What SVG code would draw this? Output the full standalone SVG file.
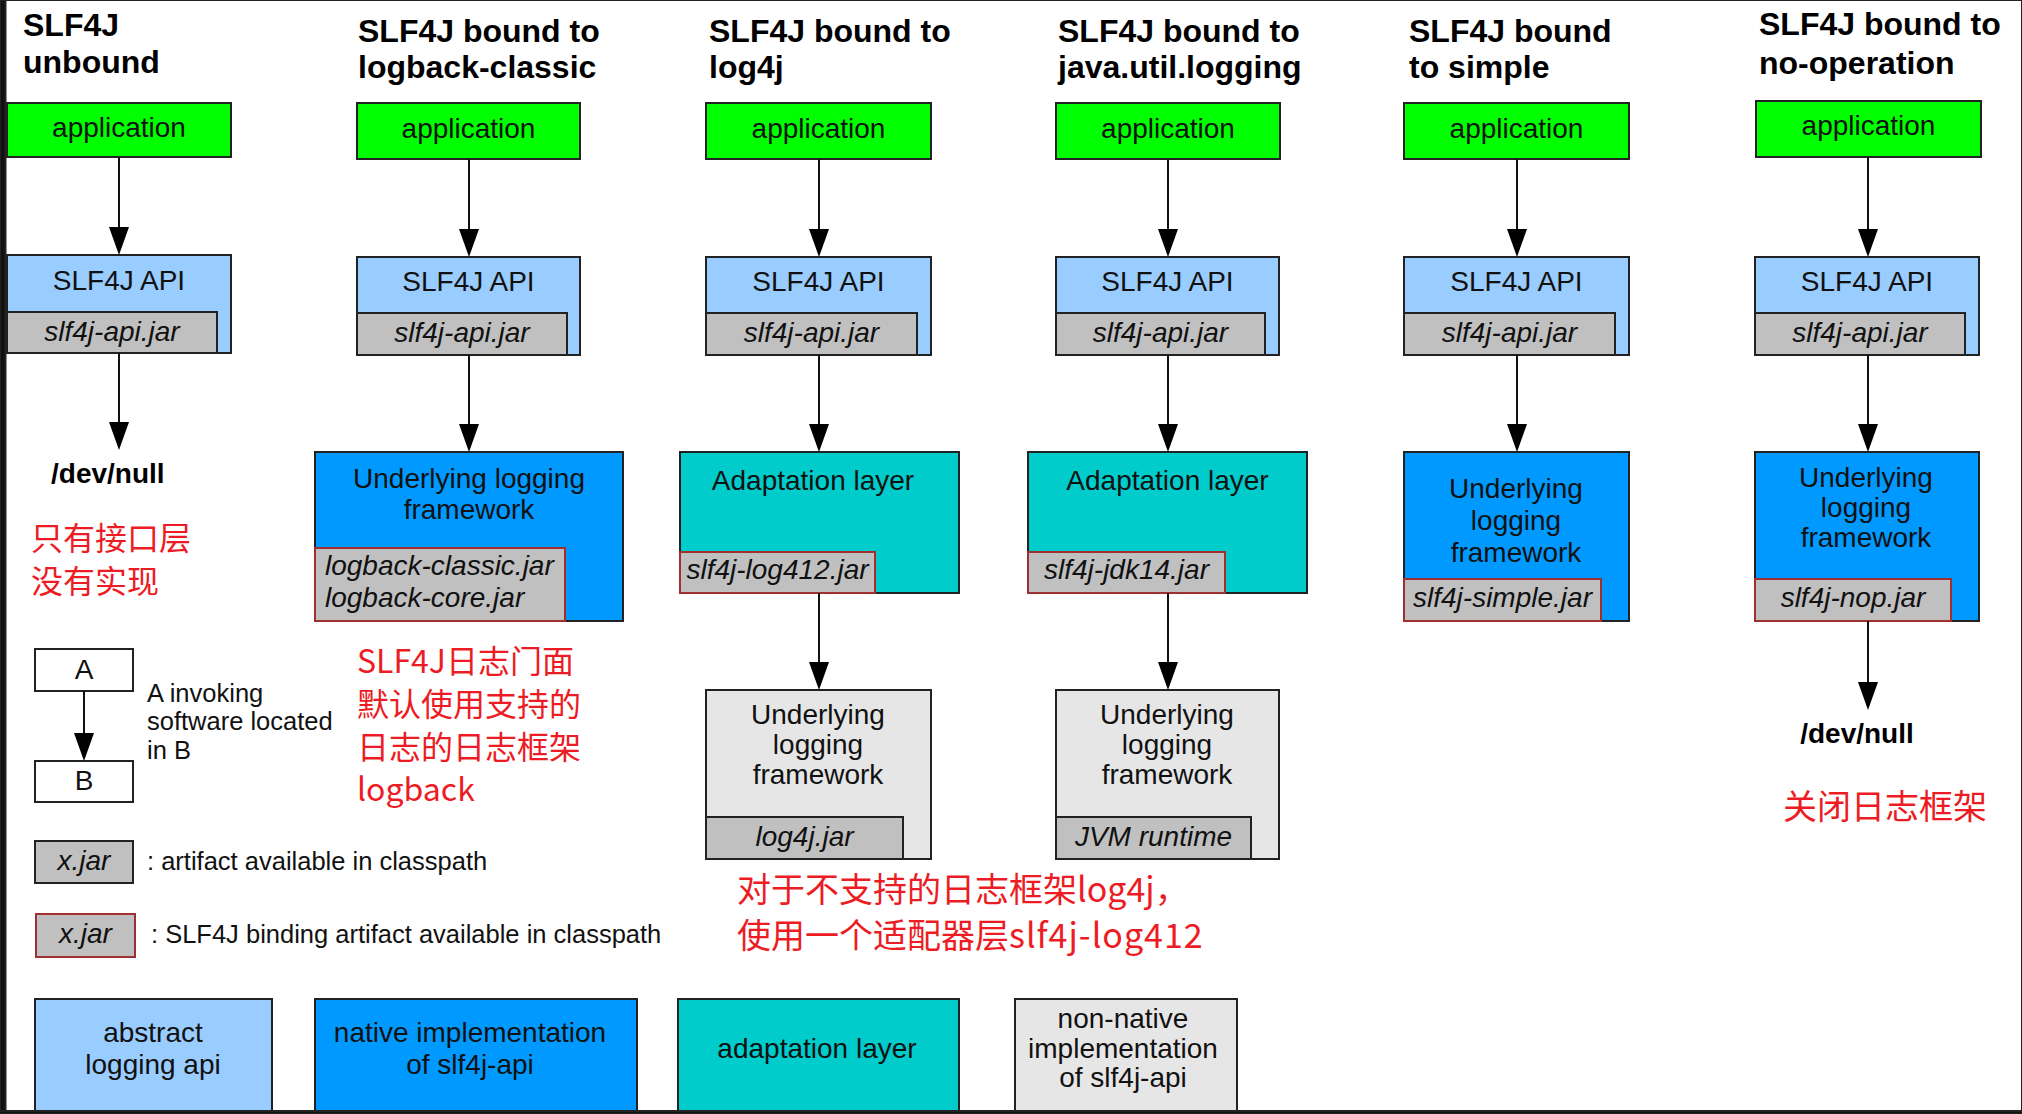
<svg xmlns="http://www.w3.org/2000/svg" width="2022" height="1114" viewBox="0 0 2022 1114">
<defs>
<marker id="ah" viewBox="0 0 28 20" markerWidth="28" markerHeight="20" refX="24" refY="10" orient="auto" markerUnits="userSpaceOnUse"><path d="M0,0 L28,10 L0,20 z" fill="#000"/></marker>
</defs>
<style>
.t{font-family:"Liberation Sans",Arial,sans-serif;font-size:32px;font-weight:bold;fill:#000}
.n{font-family:"Liberation Sans",Arial,sans-serif;font-size:28px;font-weight:bold;fill:#000}
.l{font-family:"Liberation Sans",Arial,sans-serif;font-size:28px;fill:#111;text-anchor:middle}
.j{font-family:"Liberation Sans",Arial,sans-serif;font-size:28px;font-style:italic;fill:#111;text-anchor:middle}
.js{text-anchor:start}
.d{font-family:"Liberation Sans",Arial,sans-serif;font-size:25.5px;fill:#111}
.r{font-family:"Noto Sans CJK SC",sans-serif;font-size:32px;fill:#ed1c24}
.r34{font-size:34px}
rect{stroke:#222;stroke-width:2}
.app{fill:#00ff00}
.api{fill:#99ccff}
.nat{fill:#0099ff}
.ada{fill:#00cccc}
.non{fill:#e6e6e6}
.wht{fill:#fff}
.jar{fill:#c0c0c0}
.bind{fill:#c0c0c0;stroke:#a03030}
#connectors line{stroke:#111;stroke-width:2;marker-end:url(#ah)}
</style>
<rect x="0" y="0" width="2022" height="1114" fill="#fff" stroke="none"/>

<!-- Column 1: unbound -->
<g id="col1-title"><text class="t" x="23" y="36">SLF4J</text><text class="t" x="23" y="73">unbound</text></g>
<g id="col1-app"><rect class="app" x="7" y="103" width="224" height="54"/><text class="l" x="119" y="137">application</text></g>
<g id="col1-api"><rect class="api" x="7" y="255" width="224" height="98"/><text class="l" x="119" y="290">SLF4J API</text><rect class="jar" x="7" y="312" width="210" height="41"/><text class="j" x="112" y="341">slf4j-api.jar</text></g>
<g id="col1-null"><text class="n" x="51" y="483">/dev/null</text></g>
<g id="col1-note"><text class="r" x="31" y="550">只有接口层</text><text class="r" x="31" y="593">没有实现</text></g>

<!-- Column 2: logback-classic -->
<g id="col2-title"><text class="t" x="358" y="42">SLF4J bound to</text><text class="t" x="358" y="78">logback-classic</text></g>
<g id="col2-app"><rect class="app" x="357" y="103" width="223" height="56"/><text class="l" x="468.5" y="138">application</text></g>
<g id="col2-api"><rect class="api" x="357" y="257" width="223" height="98"/><text class="l" x="468.5" y="291">SLF4J API</text><rect class="jar" x="357" y="313" width="210" height="42"/><text class="j" x="462" y="342">slf4j-api.jar</text></g>
<g id="col2-impl"><rect class="nat" x="315" y="452" width="308" height="169"/><text class="l" x="469" y="488">Underlying logging</text><text class="l" x="469" y="519">framework</text><rect class="bind" x="315" y="548" width="250" height="73"/><text class="j js" x="325" y="575">logback-classic.jar</text><text class="j js" x="325" y="607">logback-core.jar</text></g>
<g id="col2-note"><text class="r" x="357" y="673">SLF4J日志门面</text><text class="r" x="357" y="716">默认使用支持的</text><text class="r" x="357" y="759">日志的日志框架</text><text class="r" x="357" y="801">logback</text></g>

<!-- Column 3: log4j -->
<g id="col3-title"><text class="t" x="709" y="42">SLF4J bound to</text><text class="t" x="709" y="78">log4j</text></g>
<g id="col3-app"><rect class="app" x="706" y="103" width="225" height="56"/><text class="l" x="818.5" y="138">application</text></g>
<g id="col3-api"><rect class="api" x="706" y="257" width="225" height="98"/><text class="l" x="818.5" y="291">SLF4J API</text><rect class="jar" x="706" y="313" width="211" height="42"/><text class="j" x="811.5" y="342">slf4j-api.jar</text></g>
<g id="col3-adapt"><rect class="ada" x="680" y="452" width="279" height="141"/><text class="l" x="813" y="490">Adaptation layer</text><rect class="bind" x="680" y="552" width="195" height="41"/><text class="j" x="777.5" y="579">slf4j-log412.jar</text></g>
<g id="col3-impl"><rect class="non" x="706" y="690" width="225" height="169"/><text class="l" x="818" y="724">Underlying</text><text class="l" x="818" y="754">logging</text><text class="l" x="818" y="784">framework</text><rect class="jar" x="706" y="817" width="197" height="42"/><text class="j" x="804.5" y="846">log4j.jar</text></g>
<g id="col3-note"><text class="r r34" x="737" y="902">对于不支持的日志框架log4j，</text><text class="r r34" x="737" y="948">使用一个适配器层<tspan letter-spacing="1">slf4j-log412</tspan></text></g>

<!-- Column 4: java.util.logging -->
<g id="col4-title"><text class="t" x="1058" y="42">SLF4J bound to</text><text class="t" x="1058" y="78">java.util.logging</text></g>
<g id="col4-app"><rect class="app" x="1056" y="103" width="224" height="56"/><text class="l" x="1168" y="138">application</text></g>
<g id="col4-api"><rect class="api" x="1056" y="257" width="223" height="98"/><text class="l" x="1167.5" y="291">SLF4J API</text><rect class="jar" x="1056" y="313" width="209" height="42"/><text class="j" x="1160.5" y="342">slf4j-api.jar</text></g>
<g id="col4-adapt"><rect class="ada" x="1028" y="452" width="279" height="141"/><text class="l" x="1167.5" y="490">Adaptation layer</text><rect class="bind" x="1028" y="552" width="197" height="41"/><text class="j" x="1126.5" y="579">slf4j-jdk14.jar</text></g>
<g id="col4-impl"><rect class="non" x="1056" y="690" width="223" height="169"/><text class="l" x="1167" y="724">Underlying</text><text class="l" x="1167" y="754">logging</text><text class="l" x="1167" y="784">framework</text><rect class="jar" x="1056" y="817" width="195" height="42"/><text class="j" x="1153.5" y="846">JVM runtime</text></g>

<!-- Column 5: simple -->
<g id="col5-title"><text class="t" x="1409" y="42">SLF4J bound</text><text class="t" x="1409" y="78">to simple</text></g>
<g id="col5-app"><rect class="app" x="1404" y="103" width="225" height="56"/><text class="l" x="1516.5" y="138">application</text></g>
<g id="col5-api"><rect class="api" x="1404" y="257" width="225" height="98"/><text class="l" x="1516.5" y="291">SLF4J API</text><rect class="jar" x="1404" y="313" width="211" height="42"/><text class="j" x="1509.5" y="342">slf4j-api.jar</text></g>
<g id="col5-impl"><rect class="nat" x="1404" y="452" width="225" height="169"/><text class="l" x="1516" y="498">Underlying</text><text class="l" x="1516" y="530">logging</text><text class="l" x="1516" y="562">framework</text><rect class="bind" x="1404" y="579" width="197" height="42"/><text class="j" x="1502.5" y="607">slf4j-simple.jar</text></g>

<!-- Column 6: no-operation -->
<g id="col6-title"><text class="t" x="1759" y="35">SLF4J bound to</text><text class="t" x="1759" y="74">no-operation</text></g>
<g id="col6-app"><rect class="app" x="1756" y="101" width="225" height="56"/><text class="l" x="1868.5" y="135">application</text></g>
<g id="col6-api"><rect class="api" x="1755" y="257" width="224" height="98"/><text class="l" x="1867" y="291">SLF4J API</text><rect class="jar" x="1755" y="313" width="210" height="42"/><text class="j" x="1860" y="342">slf4j-api.jar</text></g>
<g id="col6-impl"><rect class="nat" x="1755" y="452" width="224" height="169"/><text class="l" x="1866" y="487">Underlying</text><text class="l" x="1866" y="517">logging</text><text class="l" x="1866" y="547">framework</text><rect class="bind" x="1755" y="579" width="196" height="42"/><text class="j" x="1853" y="607">slf4j-nop.jar</text></g>
<g id="col6-null"><text class="n" x="1857" y="743" text-anchor="middle">/dev/null</text></g>
<g id="col6-note"><text class="r r34" x="1783" y="819">关闭日志框架</text></g>

<!-- Legend -->
<g id="legend-a"><rect class="wht" x="35" y="649" width="98" height="42"/><text class="l" x="84" y="679">A</text></g>
<g id="legend-b"><rect class="wht" x="35" y="761" width="98" height="41"/><text class="l" x="84" y="790">B</text></g>
<g id="legend-ab-text"><text class="d" x="147" y="702">A invoking</text><text class="d" x="147" y="730">software located</text><text class="d" x="147" y="759">in B</text></g>
<g id="legend-jar"><rect class="jar" x="35" y="841" width="98" height="42"/><text class="j" x="84" y="870">x.jar</text><text class="d" x="147" y="870">: artifact available in classpath</text></g>
<g id="legend-bind"><rect class="bind" x="36" y="914" width="99" height="43"/><text class="j" x="85.5" y="943">x.jar</text><text class="d" x="151" y="943">: SLF4J binding artifact available in classpath</text></g>
<g id="legend-api"><rect class="api" x="35" y="999" width="237" height="120"/><text class="l" x="153" y="1042">abstract</text><text class="l" x="153" y="1074">logging api</text></g>
<g id="legend-native"><rect class="nat" x="315" y="999" width="322" height="120"/><text class="l" x="470" y="1042">native implementation</text><text class="l" x="470" y="1074">of slf4j-api</text></g>
<g id="legend-adapt"><rect class="ada" x="678" y="999" width="281" height="120"/><text class="l" x="817" y="1058">adaptation layer</text></g>
<g id="legend-nonnative"><rect class="non" x="1015" y="999" width="222" height="120"/><text class="l" x="1123" y="1028">non-native</text><text class="l" x="1123" y="1058">implementation</text><text class="l" x="1123" y="1087">of slf4j-api</text></g>

<g id="connectors">
<line x1="119" y1="157" x2="119" y2="251"/>
<line x1="119" y1="353" x2="119" y2="446"/>
<line x1="469" y1="159" x2="469" y2="253"/>
<line x1="469" y1="355" x2="469" y2="448"/>
<line x1="819" y1="159" x2="819" y2="253"/>
<line x1="819" y1="355" x2="819" y2="448"/>
<line x1="819" y1="593" x2="819" y2="686"/>
<line x1="1168" y1="159" x2="1168" y2="253"/>
<line x1="1168" y1="355" x2="1168" y2="448"/>
<line x1="1168" y1="593" x2="1168" y2="686"/>
<line x1="1517" y1="159" x2="1517" y2="253"/>
<line x1="1517" y1="355" x2="1517" y2="448"/>
<line x1="1868" y1="157" x2="1868" y2="253"/>
<line x1="1868" y1="355" x2="1868" y2="448"/>
<line x1="1868" y1="621" x2="1868" y2="706"/>
<line x1="84" y1="691" x2="84" y2="757"/>
</g>

<g id="frame"><rect x="0" y="0" width="5.5" height="1114" fill="#111" stroke="none"/><rect x="0" y="1111" width="2022" height="3" fill="#111" stroke="none"/></g>
</svg>
